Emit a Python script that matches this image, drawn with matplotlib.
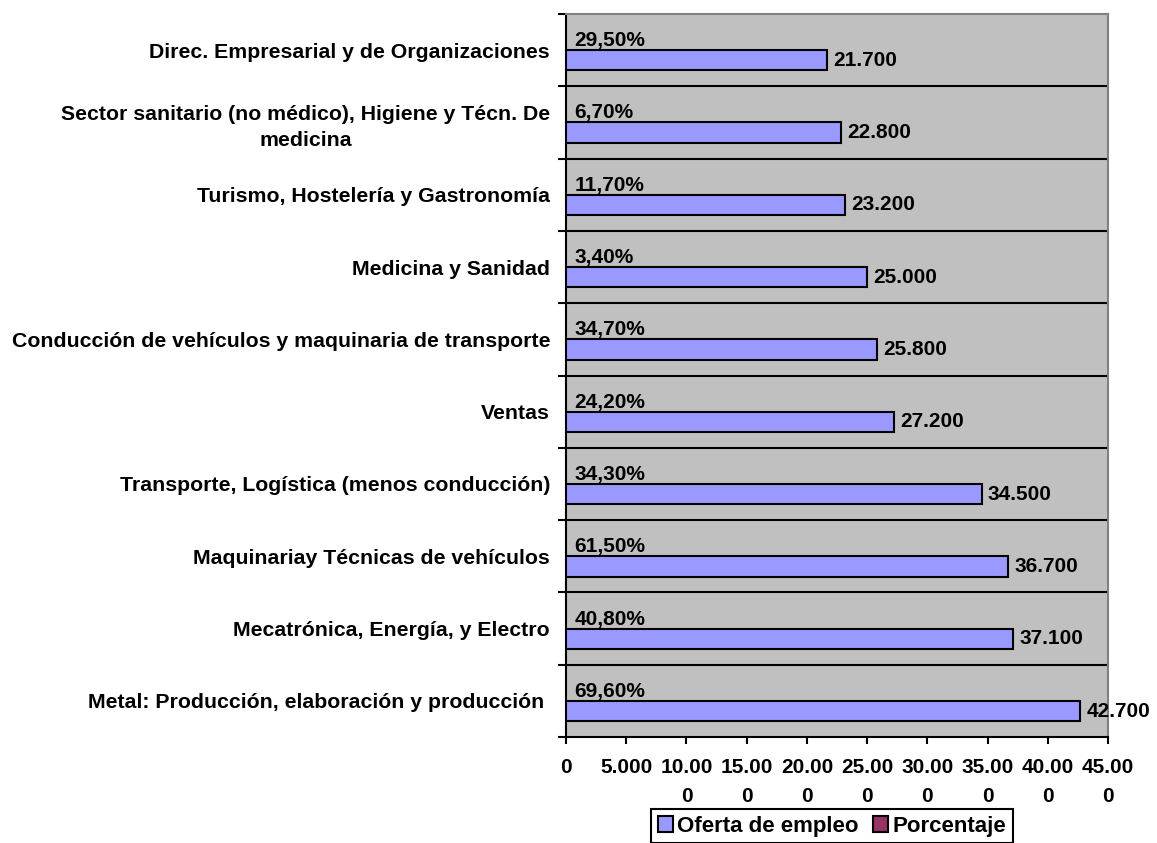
"""Oferta de empleo por sector profesional, barras horizontales estilo Excel."""

import matplotlib

matplotlib.use("Agg")
import matplotlib.pyplot as plt
from matplotlib.patches import Patch

plt.rcParams["font.family"] = ["Liberation Sans", "DejaVu Sans"]
plt.rcParams["font.weight"] = "bold"

# datos (de arriba abajo)
categorias = [
    "Direc. Empresarial y de Organizaciones",
    "Sector sanitario (no médico), Higiene y Técn. De\nmedicina",
    "Turismo, Hostelería y Gastronomía",
    "Medicina y Sanidad",
    "Conducción de vehículos y maquinaria de transporte",
    "Ventas",
    "Transporte, Logística (menos conducción)",
    "Maquinariay Técnicas de vehículos",
    "Mecatrónica, Energía, y Electro",
    "Metal: Producción, elaboración y producción ",
]
oferta = [21700, 22800, 23200, 25000, 25800, 27200, 34500, 36700, 37100, 42700]
porcentaje = [0.295, 0.067, 0.117, 0.034, 0.347, 0.242, 0.343, 0.615, 0.408, 0.696]
etiquetas_pct = ["29,50%", "6,70%", "11,70%", "3,40%", "34,70%",
                 "24,20%", "34,30%", "61,50%", "40,80%", "69,60%"]
ticks_x = [0, 5000, 10000, 15000, 20000, 25000, 30000, 35000, 40000, 45000]
ticks_x_lbl = ["0", "5.000", "10.00\n0", "15.00\n0", "20.00\n0", "25.00\n0",
               "30.00\n0", "35.00\n0", "40.00\n0", "45.00\n0"]

COLOR_OFERTA = "#9999FF"
COLOR_PCT = "#993366"
FONDO = "#C0C0C0"
FS = 15
FS_CAT = 15.35
LW = 1.5

fig = plt.figure(figsize=(11.57, 8.43), dpi=100)
ax = fig.add_axes([0.4892, 0.1257, 0.4685, 0.8577])
ax.set_facecolor(FONDO)

n = len(categorias)
ys = list(range(n))

ax.barh([y + 0.14 for y in ys], oferta, height=0.28, color=COLOR_OFERTA,
        edgecolor="black", linewidth=LW, zorder=3)
ax.barh([y - 0.15 for y in ys], porcentaje, height=0.28, color=COLOR_PCT,
        linewidth=0, zorder=3)

for y, v, p in zip(ys, oferta, etiquetas_pct):
    ax.annotate(f"{v:,}".replace(",", "."), (v, y + 0.14), xytext=(4.5, 0),
                textcoords="offset points", ha="left", va="center",
                fontsize=FS, fontweight="bold", annotation_clip=False, zorder=5)
    ax.annotate(p, (0, y - 0.055), xytext=(6, 0), textcoords="offset points",
                ha="left", va="baseline", fontsize=FS, fontweight="bold", zorder=5)

# separadores entre categorías
for y in range(n - 1):
    ax.axhline(y + 0.5, color="black", linewidth=LW, zorder=2)

ax.set_xlim(0, 45000)
ax.set_ylim(n - 0.5, -0.5)

ax.set_xticks(ticks_x)
ax.set_xticklabels(ticks_x_lbl, fontsize=FS, fontweight="bold", linespacing=1.65)
ax.set_yticks(ys)
ax.set_yticklabels(categorias, fontsize=FS_CAT, fontweight="bold",
                   multialignment="center", linespacing=1.45)
ax.set_yticks([y + 0.5 for y in range(-1, n)], minor=True)
ax.tick_params(axis="y", which="major", length=0, pad=11.5)
ax.tick_params(axis="y", which="minor", length=6, width=LW, direction="out")
ax.tick_params(axis="x", length=5, width=LW, direction="out", pad=10)

for lado in ("left", "bottom"):
    ax.spines[lado].set_color("black")
    ax.spines[lado].set_linewidth(LW)
for lado in ("top", "right"):
    ax.spines[lado].set_color("#808080")
    ax.spines[lado].set_linewidth(LW)

handles = [Patch(facecolor=COLOR_OFERTA, edgecolor="black", linewidth=LW,
                 label="Oferta de empleo"),
           Patch(facecolor=COLOR_PCT, edgecolor="black", linewidth=LW,
                 label="Porcentaje")]
leg = fig.legend(handles=handles, loc="upper left",
                 bbox_to_anchor=(651 / 1157, 1 - 809 / 843),
                 ncol=2, frameon=True, fancybox=False, edgecolor="black", framealpha=1,
                 prop={"size": 16, "weight": "bold"}, handlelength=0.68, handleheight=0.68,
                 handletextpad=0.2, columnspacing=0.65, borderpad=0.3, borderaxespad=0)
leg.get_frame().set_linewidth(LW)

fig.savefig("out.png", dpi=100)
